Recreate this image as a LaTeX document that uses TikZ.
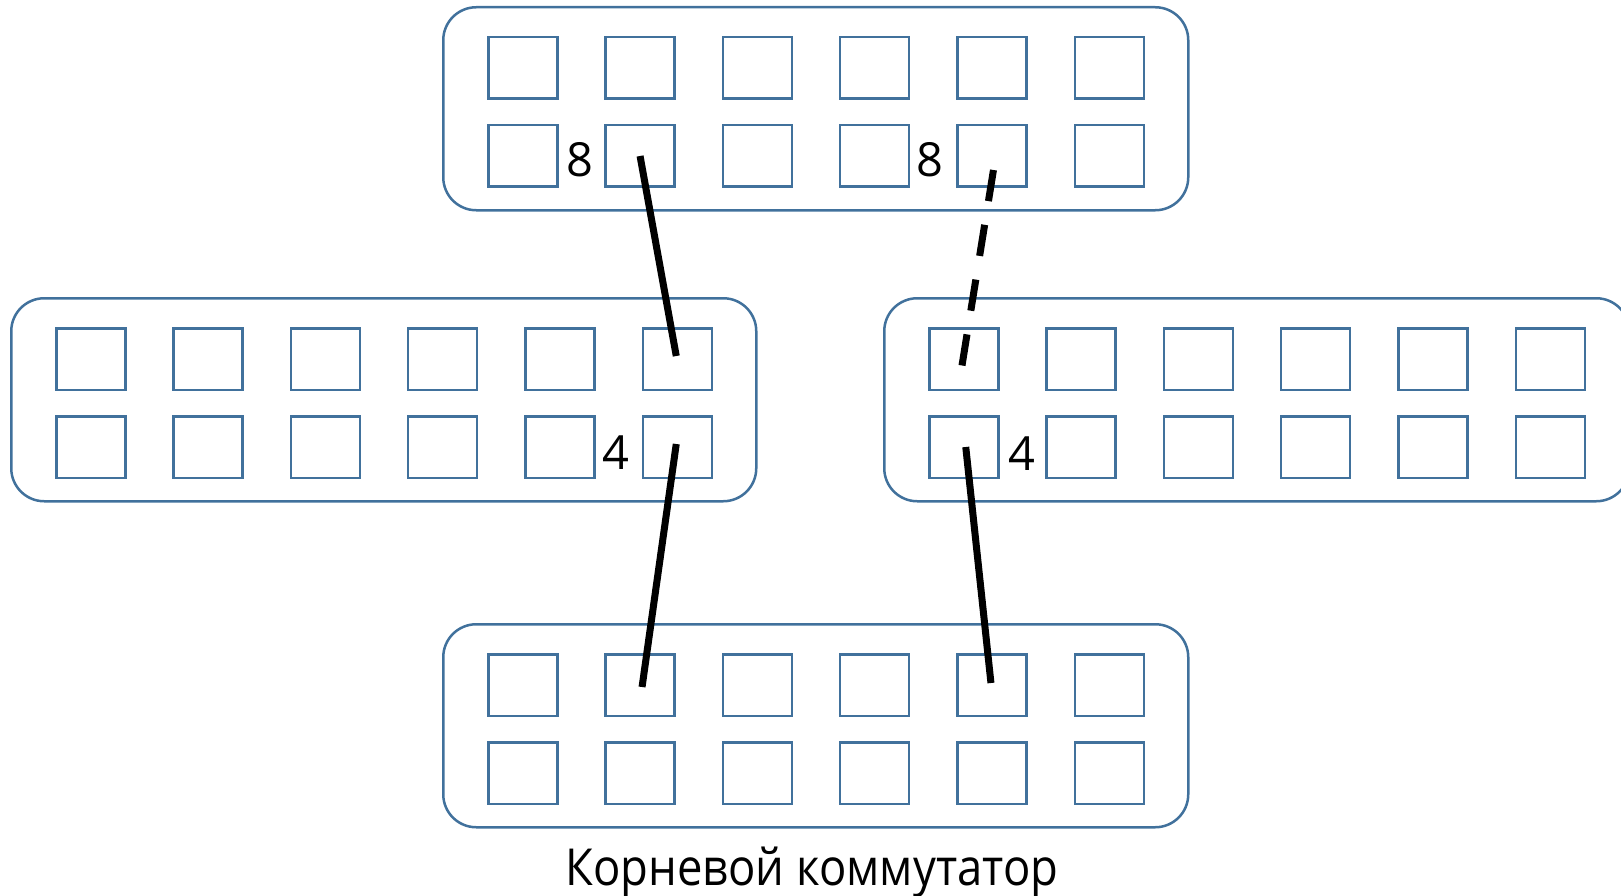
\documentclass[tikz,border=0pt]{standalone}
\usepackage{fontspec}
\setmainfont{Open Sans}
\newfontfamily\capfont[FakeStretch=0.89]{Open Sans}
\usetikzlibrary{calc}
\definecolor{swblue}{RGB}{65,113,156}
\tikzset{
  swbox/.style={draw=swblue, line width=2.5pt, rounded corners=33pt, minimum width=745pt, minimum height=203pt, inner sep=0pt, outer sep=0pt, anchor=north west},
  port/.style={draw=swblue, line width=2.5pt, minimum width=69pt, minimum height=61.5pt, inner sep=0pt, outer sep=0pt, anchor=north west},
  link/.style={line width=7pt, black},
  linkdash/.style={link, dash pattern=on 31.5pt off 24pt},
  num/.style={font=\fontsize{47}{56}\selectfont, inner sep=0pt}
}
\begin{document}
\begin{tikzpicture}[x=1pt,y=-1pt]
\useasboundingbox (0,0) rectangle (1621,896);
\foreach \name/\x/\y in {top/442/6, left/10/297, right/883/297, bot/442/623} {
  \node[swbox] (\name) at ({\x+1.25},{\y+1.25}) {};
  \foreach \c in {1,...,6} {
    \foreach \r/\ry in {1/30,2/118} {
      \node[port] (\name-\r-\c) at ({\x+46.25+117.3*(\c-1)},{\y+\ry+1.25}) {};
    }
  }
}
\draw[link] (top-2-2.center) -- ($(left-1-6.center)+(-1,-3)$);
\draw[link] ($(left-2-6.center)+(-1,-3)$) -- ($(bot-1-2.center)+(2,2)$);
\draw[linkdash] ($(top-2-5.center)+(1.5,14)$) -- ($(right-1-1.center)+(-2,8)$);
\draw[link] ($(right-2-1.center)+(2,0)$) -- ($(bot-1-5.center)+(-1,-2)$);
\node[num] (l8a) at (580,160) {8};
\node[num] (l8b) at (930,160) {8};
\node[num] (l4a) at (616,453) {4};
\node[num] (l4b) at (1022,454) {4};
\node[font=\capfont\fontsize{51}{60}\selectfont, anchor=base, inner sep=0pt] (cap) at (812,885) {Корневой коммутатор};
\end{tikzpicture}
\end{document}
